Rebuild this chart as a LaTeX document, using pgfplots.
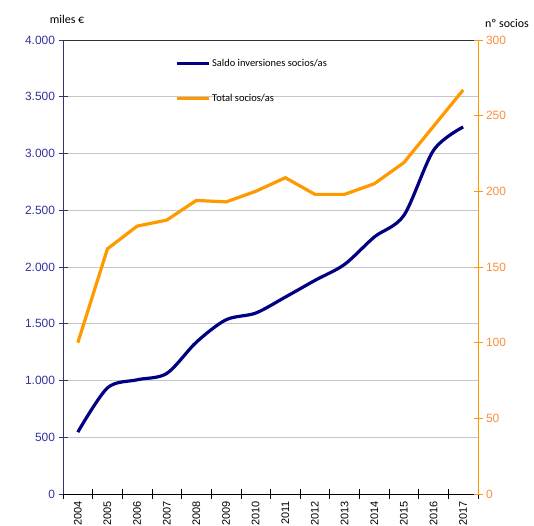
\documentclass[border=0pt]{standalone}
\usepackage{pgfplots}
\pgfplotsset{compat=1.18}
\usepackage{fontspec}
\setmainfont{Liberation Sans}
\newfontfamily\calibri{Carlito}
\definecolor{navy}{RGB}{0,0,128}
\definecolor{orng}{RGB}{255,153,0}
\definecolor{lefttick}{RGB}{51,51,153}
\definecolor{righttick}{RGB}{255,140,60}
\definecolor{leftaxis}{RGB}{50,50,110}
\begin{document}
\begin{tikzpicture}[x=1bp,y=1bp]
\useasboundingbox (0,0) rectangle (534,526);
\begin{axis}[
  at={(63bp,32bp)}, anchor=south west,
  scale only axis, width=415bp, height=454bp,
  xmin=-0.5, xmax=13.5, ymin=0, ymax=4000,
  axis x line*=bottom, axis y line*=left,
  axis line style={-},
  x axis line style={black, line width=0.9pt},
  y axis line style={leftaxis, line width=0.9pt},
  xtick={0,...,13},
  xticklabels={2004,2005,2006,2007,2008,2009,2010,2011,2012,2013,2014,2015,2016,2017},
  major x tick style={draw=none},
  minor xtick={-0.5,0.5,...,13.5},
  minor x tick style={black, line width=0.6pt},
  minor tick length=9bp,
  major tick length=9bp,
  tick align=center,
  x tick label style={rotate=90, anchor=east, font=\fontsize{11}{11}\selectfont},
  xticklabel shift=-1bp,
  ytick={0,500,...,4000},
  scaled y ticks=false,
  y tick style={leftaxis, line width=0.6pt},
  y tick label style={color=lefttick, font=\fontsize{12}{12}\selectfont},
  /pgf/number format/.cd, 1000 sep={.}, assume math mode=true, /pgfplots/.cd,
  ymajorgrids, grid style={gray!45, line width=0.6pt},
  legend style={draw=none, fill=none, at={(0.262,0.967)}, anchor=north west,
    row sep=22bp, font=\calibri\fontsize{10.5}{12}\selectfont},
  legend cell align=left,
  legend image code/.code={\draw[#1] (0bp,0bp) -- (32bp,0bp);},
]
\addplot[navy, line width=3.2bp, smooth, tension=0.5] coordinates {
(0,545) (1,935) (2,1006) (3,1062) (4,1338) (5,1535) (6,1594) (7,1735)
(8,1882) (9,2023) (10,2264) (11,2455) (12,3028) (13,3234)};
\addlegendentry{Saldo inversiones socios/as}
\addlegendimage{orng, line width=3.2bp}
\addlegendentry{Total socios/as}
\draw[black!80, line width=0.9pt] (rel axis cs:0,1) -- (rel axis cs:1,1);
\end{axis}
\begin{axis}[
  at={(63bp,32bp)}, anchor=south west,
  scale only axis, width=415bp, height=454bp,
  xmin=-0.5, xmax=13.5, ymin=0, ymax=300,
  axis x line=none, axis y line*=right,
  axis line style={-},
  y axis line style={orng, line width=0.9pt},
  ytick={0,50,...,300},
  tick align=center, major tick length=9bp,
  y tick style={orng, line width=0.6pt},
  y tick label style={color=righttick, font=\fontsize{12}{12}\selectfont},
  /pgf/number format/assume math mode=true,
]
\addplot[orng, line width=3.2bp] coordinates {
(0,100) (1,162) (2,177) (3,181) (4,194) (5,193) (6,200) (7,209)
(8,198) (9,198) (10,205) (11,219) (12,243) (13,267)};
\end{axis}
\node[font=\calibri\fontsize{12}{13}\selectfont] at (67,507) {miles €};
\node[font=\calibri\fontsize{12}{13}\selectfont] at (507,503) {nº socios};
\end{tikzpicture}
\end{document}
